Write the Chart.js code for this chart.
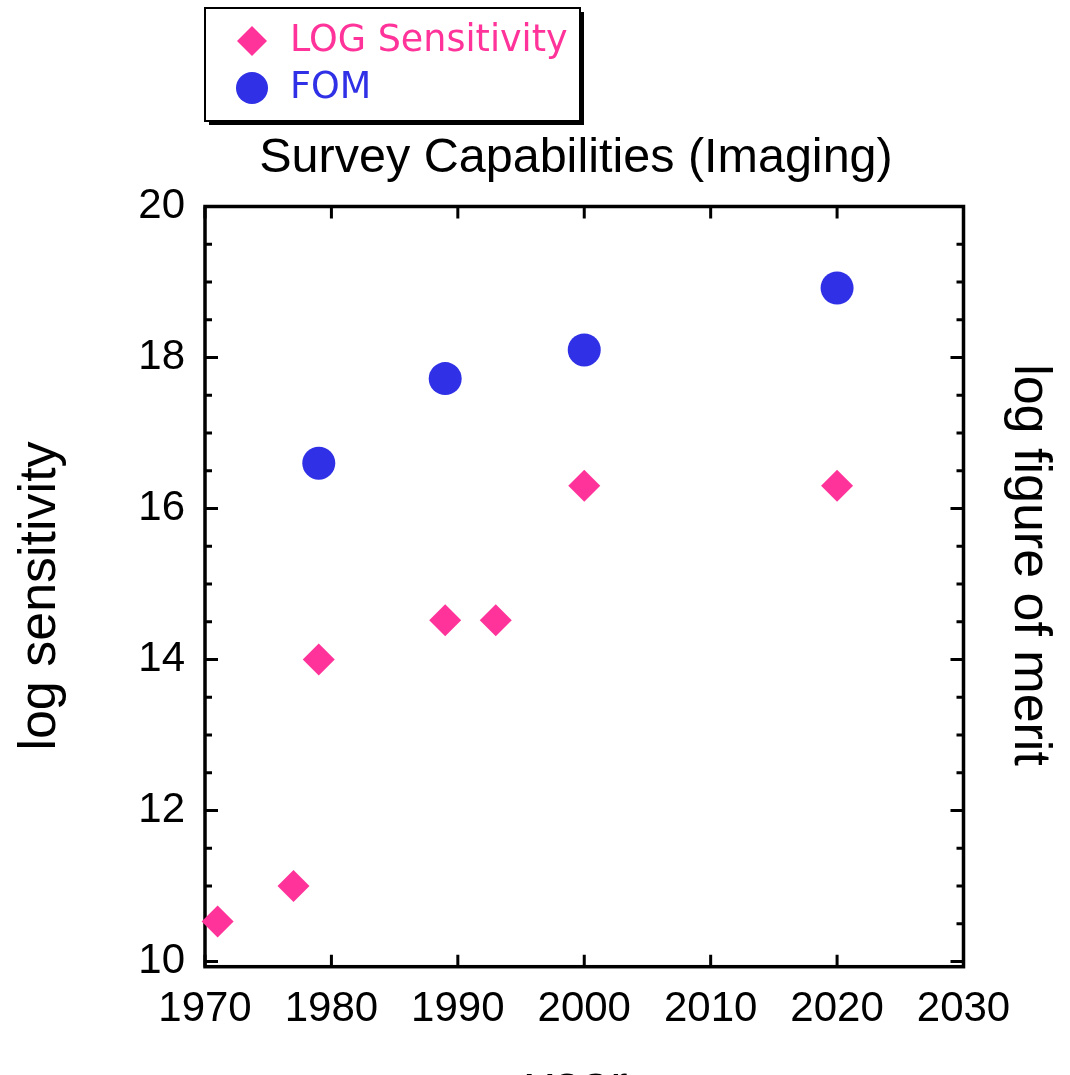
<!DOCTYPE html>
<html>
<head>
<meta charset="utf-8">
<script src="https://cdn.jsdelivr.net/npm/chart.js@4.4.1/dist/chart.umd.min.js"></script>
<style>
  html, body { margin: 0; padding: 0; background: #fff; }
</style>
</head>
<body>
<canvas id="myChart" width="1070" height="1075"></canvas>
<script>
// values
var sensYears = [1971, 1977, 1979, 1989, 1993, 2000, 2020];
var sensValues = [10.53, 11.0, 14.0, 14.52, 14.52, 16.3, 16.3];
var fomYears = [1979, 1989, 2000, 2020];
var fomValues = [16.6, 17.72, 18.1, 18.92];

var xTicks = [1970, 1980, 1990, 2000, 2010, 2020, 2030];
var yTicks = [10, 12, 14, 16, 18, 20];

var pink = "#ff3399";
var blue = "#3030e6";

function toPoints(xs, ys) {
  return xs.map(function (x, i) { return { x: x, y: ys[i] }; });
}

// box, inside ticks, side titles
var framePlugin = {
  id: "frame",
  beforeDatasetsDraw: function (chart) {
    var ctx = chart.ctx;
    var a = chart.chartArea;
    var xs = chart.scales.x;
    var ys = chart.scales.y;
    ctx.save();
    ctx.strokeStyle = "#000";
    ctx.lineWidth = 3.5;
    ctx.strokeRect(a.left, a.top, a.right - a.left, a.bottom - a.top);

    ctx.lineWidth = 3;
    ctx.beginPath();
    xTicks.forEach(function (v) {
      var px = xs.getPixelForValue(v);
      ctx.moveTo(px, a.bottom); ctx.lineTo(px, a.bottom - 12);
      ctx.moveTo(px, a.top); ctx.lineTo(px, a.top + 12);
    });
    for (var v = yTicks[0]; v <= yTicks[yTicks.length - 1]; v += 0.5) {
      var py = ys.getPixelForValue(v);
      var len = (yTicks.indexOf(v) >= 0) ? 13 : 7;
      ctx.moveTo(a.left, py); ctx.lineTo(a.left + len, py);
      ctx.moveTo(a.right, py); ctx.lineTo(a.right - len, py);
    }
    ctx.stroke();
    ctx.restore();
  },
  afterDraw: function (chart) {
    var ctx = chart.ctx;
    ctx.save();
    ctx.fillStyle = "#000";

    // title
    ctx.font = "48.5px 'Liberation Sans', Arial, sans-serif";
    ctx.textAlign = "center";
    ctx.textBaseline = "alphabetic";
    ctx.fillText("Survey Capabilities (Imaging)", 576, 172);

    // left title
    ctx.font = "52px 'Liberation Sans', Arial, sans-serif";
    ctx.save();
    ctx.translate(55, 596);
    ctx.rotate(-Math.PI / 2);
    ctx.fillText("log sensitivity", 0, 0);
    ctx.restore();

    // right title
    ctx.save();
    ctx.translate(1015, 565);
    ctx.rotate(Math.PI / 2);
    ctx.fillText("log figure of merit", 0, 0);
    ctx.restore();

    // x title, mostly cut off by the bottom edge
    ctx.fillText("year", 577, 1101);

    // legend box with shadow
    ctx.fillStyle = "#000";
    ctx.fillRect(209, 12, 375, 113);
    ctx.fillStyle = "#fff";
    ctx.fillRect(205, 8, 375, 113);
    ctx.strokeStyle = "#000";
    ctx.lineWidth = 2;
    ctx.strokeRect(205, 8, 375, 113);

    var items = chart.data.datasets;
    var rows = [41, 88];
    ctx.font = "36.5px 'DejaVu Sans', sans-serif";
    ctx.textAlign = "left";
    ctx.textBaseline = "middle";
    items.forEach(function (ds, i) {
      var cy = rows[i];
      ctx.fillStyle = ds.backgroundColor;
      ctx.beginPath();
      if (ds.pointStyle === "rectRot") {
        ctx.moveTo(252 - 15, cy); ctx.lineTo(252, cy - 15);
        ctx.lineTo(252 + 15, cy); ctx.lineTo(252, cy + 15);
        ctx.closePath();
      } else {
        ctx.arc(252, cy, 16, 0, Math.PI * 2);
      }
      ctx.fill();
      ctx.fillText(ds.label, 290, cy + 1);
    });
    ctx.restore();
  }
};

var tickFont = { family: "'Liberation Sans', Arial, sans-serif", size: 42 };

var myChart = new Chart(document.getElementById("myChart"), {
  type: "scatter",
  data: {
    datasets: [
      {
        label: "LOG Sensitivity",
        data: toPoints(sensYears, sensValues),
        pointStyle: "rectRot",
        pointRadius: 16,
        pointHoverRadius: 16,
        backgroundColor: pink,
        borderColor: pink,
        borderWidth: 0,
        clip: false
      },
      {
        label: "FOM",
        data: toPoints(fomYears, fomValues),
        pointStyle: "circle",
        pointRadius: 16.5,
        pointHoverRadius: 16.5,
        backgroundColor: blue,
        borderColor: blue,
        borderWidth: 0,
        clip: false
      }
    ]
  },
  options: {
    responsive: false,
    animation: false,
    devicePixelRatio: 1,
    layout: { padding: { top: 206.5, right: 106.5, left: 0, bottom: 0 } },
    plugins: {
      legend: { display: false },
      title: { display: false },
      tooltip: { enabled: false }
    },
    scales: {
      x: {
        type: "linear",
        min: 1970,
        max: 2030,
        grid: { display: false, drawTicks: false },
        border: { display: false },
        afterBuildTicks: function (scale) {
          scale.ticks = xTicks.map(function (v) { return { value: v }; });
        },
        afterFit: function (scale) { scale.height = 108.3; },
        ticks: {
          color: "#000",
          font: tickFont,
          padding: 18,
          maxRotation: 0,
          autoSkip: false,
          callback: function (value) { return String(value); }
        }
      },
      y: {
        type: "linear",
        min: 9.93,
        max: 20,
        grid: { display: false, drawTicks: false },
        border: { display: false },
        afterBuildTicks: function (scale) {
          scale.ticks = yTicks.map(function (v) { return { value: v }; });
        },
        afterFit: function (scale) { scale.width = 205; },
        ticks: {
          color: "#000",
          font: tickFont,
          padding: 20,
          autoSkip: false,
          callback: function (value) { return String(value); }
        }
      }
    }
  },
  plugins: [framePlugin]
});
</script>
</body>
</html>
